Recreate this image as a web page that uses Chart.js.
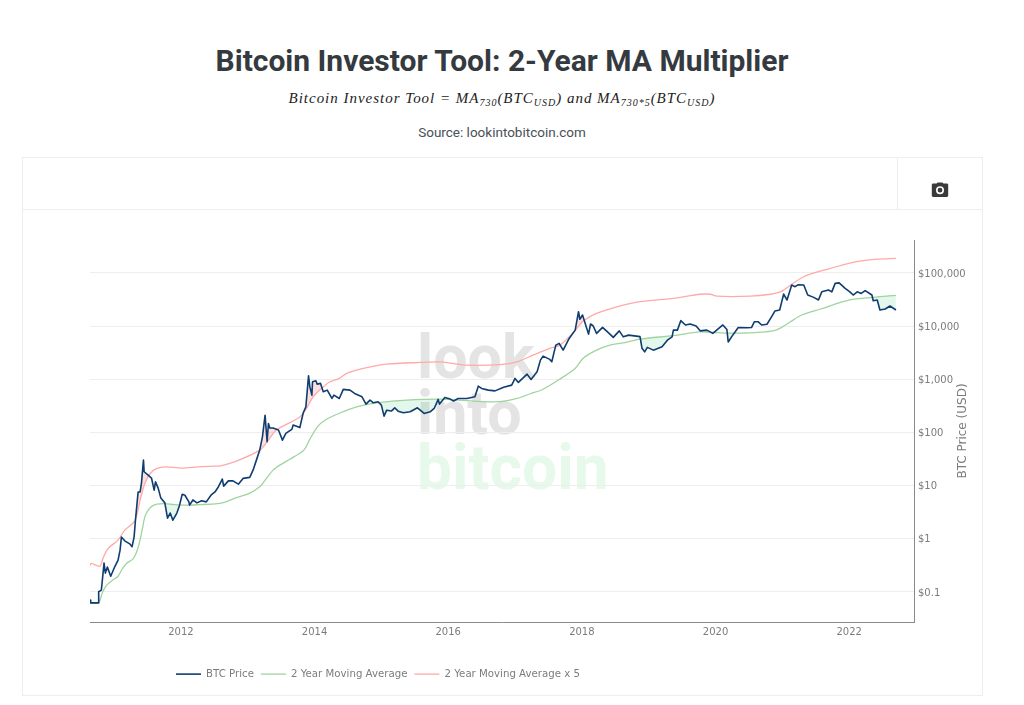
<!DOCTYPE html>
<html><head><meta charset="utf-8">
<style>
html,body{margin:0;padding:0;background:#fff;width:1024px;height:705px;overflow:hidden}
.t{position:absolute;left:0;width:1004px;text-align:center;white-space:nowrap}
#title{top:42px;font:700 30px Roboto,sans-serif;color:#343a40;line-height:38px}
#math{top:88px;font:italic 15px "Liberation Serif",serif;color:#222;line-height:20px;letter-spacing:.98px}
#math sub{font-size:10px;line-height:0;vertical-align:-3px}
#src{top:123px;font:400 13.5px Roboto,sans-serif;color:#495057;line-height:18px}
#box{position:absolute;left:22px;top:157px;width:961px;height:539px;border:1px solid #eee;box-sizing:border-box}
#hl{position:absolute;left:22px;top:209px;width:960px;height:1px;background:#eee}
#vl{position:absolute;left:897px;top:157px;width:1px;height:52px;background:#eee}
#cam{position:absolute;left:931px;top:182px}
#wrap{position:absolute;left:22px;top:210px;width:960px;height:485px}
</style></head><body>
<div id="title" class="t">Bitcoin Investor Tool: 2-Year MA Multiplier</div>
<div id="math" class="t">Bitcoin Investor Tool = MA<sub>730</sub>(BTC<sub>USD</sub>) and MA<sub>730*5</sub>(BTC<sub>USD</sub>)</div>
<div id="src" class="t">Source: lookintobitcoin.com</div>
<div id="box"></div><div id="hl"></div><div id="vl"></div>
<svg id="cam" width="18" height="16" viewBox="0 0 18 16"><path fill="#3a3a3a" fill-rule="evenodd" d="M5.6 1.6 6.6 .5h4.8l1 1.1h3.4c.8 0 1.4.6 1.4 1.4v10.6c0 .8-.6 1.4-1.4 1.4H2.2c-.8 0-1.4-.6-1.4-1.4V3c0-.8.6-1.4 1.4-1.4zM9 4.2a4 4 0 1 0 0 8 4 4 0 0 0 0-8zm0 1.6a2.4 2.4 0 1 1 0 4.8 2.4 2.4 0 0 1 0-4.8z"/></svg>
<div id="wrap"><canvas id="c" width="960" height="485" style="display:block"></canvas></div>
<script src="https://cdn.jsdelivr.net/npm/chart.js@4"></script>
<script>
const priceYears=[2010.64,2010.65,2010.76,2010.77,2010.81,2010.83,2010.85,2010.87,2010.90,2010.95,2011.01,2011.06,2011.09,2011.11,2011.16,2011.24,2011.27,2011.30,2011.32,2011.36,2011.39,2011.41,2011.44,2011.45,2011.51,2011.56,2011.60,2011.62,2011.66,2011.70,2011.76,2011.80,2011.84,2011.88,2011.94,2011.98,2012.02,2012.06,2012.12,2012.13,2012.18,2012.24,2012.31,2012.38,2012.45,2012.51,2012.56,2012.62,2012.64,2012.71,2012.78,2012.86,2012.93,2013.03,2013.08,2013.13,2013.18,2013.22,2013.26,2013.29,2013.31,2013.33,2013.38,2013.46,2013.52,2013.57,2013.66,2013.68,2013.78,2013.83,2013.87,2013.91,2013.93,2013.96,2013.97,2014.02,2014.04,2014.09,2014.13,2014.19,2014.26,2014.29,2014.37,2014.43,2014.53,2014.60,2014.71,2014.77,2014.83,2014.88,2014.95,2015.00,2015.04,2015.08,2015.15,2015.20,2015.25,2015.33,2015.43,2015.54,2015.64,2015.73,2015.79,2015.85,2015.87,2015.95,2016.03,2016.08,2016.15,2016.28,2016.40,2016.45,2016.50,2016.60,2016.70,2016.83,2016.95,2017.00,2017.05,2017.18,2017.24,2017.33,2017.38,2017.42,2017.52,2017.55,2017.61,2017.66,2017.72,2017.81,2017.90,2017.95,2017.97,2018.01,2018.05,2018.10,2018.13,2018.17,2018.22,2018.31,2018.42,2018.47,2018.56,2018.62,2018.70,2018.87,2018.90,2018.94,2018.98,2019.07,2019.20,2019.28,2019.35,2019.37,2019.43,2019.48,2019.55,2019.62,2019.71,2019.77,2019.87,2019.96,2020.11,2020.17,2020.19,2020.24,2020.34,2020.47,2020.54,2020.58,2020.64,2020.69,2020.77,2020.84,2020.89,2020.96,2021.02,2021.07,2021.14,2021.19,2021.24,2021.32,2021.38,2021.47,2021.54,2021.59,2021.69,2021.74,2021.79,2021.85,2021.94,2022.01,2022.06,2022.12,2022.18,2022.24,2022.34,2022.36,2022.42,2022.46,2022.54,2022.61,2022.70];
const priceValues=[0.0688,0.061,0.061,0.099,0.106,0.19,0.342,0.222,0.288,0.194,0.292,0.39,0.6,1.06,0.9,0.78,0.7,1.07,2.2,7.5,7.5,11,29.8,18,15.5,13.7,8.1,11.6,8.85,5.74,4.67,2.4,3,2.2,3,4.23,6.8,6.5,4.87,4.23,5.3,4.67,5.1,4.87,6.5,7.5,9.3,13.1,9.65,12.1,12.1,10.5,13.5,14.1,19.3,29.8,46,81.6,209,66,146,120,120,110,70.8,95,113,136,122,230,300,1150,713,499,890,930,804,830,577,620,432,499,432,640,620,537,465,338,402,358,375,324,201,260,250,288,249,232,242,288,226,242,280,415,338,452,420,388,432,432,465,736,667,620,600,700,770,1030,865,1240,985,1370,2280,2710,2350,2120,4360,4700,3510,5830,8360,18600,13400,16100,11200,7030,10900,10000,7250,9400,7030,6100,8100,6250,6730,6300,3800,3260,3960,3510,4050,5420,6250,8360,8360,12600,10450,10900,10000,8100,8360,7250,10450,8600,5000,6250,9400,9300,9400,12000,12000,10450,10800,15000,19200,20000,40000,30900,59000,55000,60000,59000,38300,34600,30900,44000,47600,44000,63500,65000,51300,44000,38300,44000,41000,46300,38300,29900,30900,20000,20900,23800,20000];
const maYears=[2010.64,2010.76,2010.79,2010.83,2010.89,2010.98,2011.06,2011.13,2011.19,2011.28,2011.33,2011.37,2011.42,2011.46,2011.51,2011.57,2011.64,2011.76,2011.91,2012.06,2012.28,2012.55,2012.66,2012.81,2013.03,2013.18,2013.26,2013.38,2013.48,2013.63,2013.84,2013.93,2014.04,2014.16,2014.38,2014.63,2014.98,2015.38,2015.88,2016.37,2016.78,2017.03,2017.23,2017.42,2017.67,2017.90,2018.02,2018.22,2018.42,2018.62,2018.87,2019.37,2019.77,2020.07,2020.37,2020.67,2020.86,2020.97,2021.12,2021.29,2021.57,2022.01,2022.36,2022.70];
const maValues=[0.061,0.061,0.0688,0.098,0.132,0.164,0.194,0.276,0.342,0.407,0.528,0.747,1.43,2.52,3.4,4.05,4.4,4.5,4.32,4.23,4.32,4.5,4.83,5.74,7.14,9.36,12.5,19.3,24,31,46,74,125,170,230,300,363,402,420,385,376,432,530,645,1000,1590,2480,3510,4360,4830,5660,6600,7750,7450,7340,7660,8100,9110,12000,16100,20900,30900,34600,37800];
const ma5Years=[2010.64,2010.66,2010.79,2010.84,2010.91,2011.06,2011.16,2011.31,2011.39,2011.46,2011.54,2011.64,2011.76,2012.01,2012.26,2012.51,2012.58,2012.83,2013.18,2013.31,2013.43,2013.78,2013.88,2013.98,2014.13,2014.23,2014.37,2014.48,2014.73,2015.08,2015.58,2015.88,2016.03,2016.28,2016.78,2017.03,2017.27,2017.52,2017.67,2017.87,2018.02,2018.22,2018.62,2018.87,2019.37,2019.77,2019.92,2020.02,2020.52,2020.82,2020.97,2021.02,2021.32,2021.67,2022.06,2022.41,2022.70];
const ma5Values=[0.31,0.338,0.30,0.44,0.645,0.93,1.43,2.14,5.27,10.85,16.7,20.8,22.3,21.1,22.3,23,23,28.5,46,71,110,194,280,465,713,890,1030,1280,1590,1915,2060,2110,2000,1830,1880,2120,2830,3780,4360,7470,12400,17300,24800,28800,33200,39600,39600,36400,36400,39600,44000,47600,84500,117000,158000,181000,188000];
const yTicks=[0.1,1,10,100,1000,10000,100000];
const xTickYears=[2012,2014,2016,2018,2020,2022];
const seriesNames=['BTC Price','2 Year Moving Average','2 Year Moving Average x 5'];
const watermarkWords=['look','into','bitcoin'];
const axisTitle='BTC Price (USD)';

const pts=(xs,ys)=>xs.map((x,i)=>({x,y:ys[i]}));
const tickFont={family:'"DejaVu Sans",sans-serif',size:10};
const legendFont={family:'"DejaVu Sans",sans-serif',size:10.2};
const tickColor='#7c7c7c';
const none='rgba(0,0,0,0)';

const decor={
  id:'decor',
  afterLayout(chart){
    const l=chart.legend;
    l.left=154-l.options.labels.padding;
    l.top=459-l.options.labels.padding;
  },
  beforeDraw(chart){
    const c=chart.ctx;c.save();
    c.font='700 61px Roboto,sans-serif';c.textAlign='left';c.textBaseline='alphabetic';
    c.fillStyle='#e4e4e4';c.fillText(watermarkWords[0],395,168);c.fillText(watermarkWords[1],395,224);
    c.font='700 62.3px Roboto,sans-serif';
    c.fillStyle='#e7f9eb';c.fillText(watermarkWords[2],395,279);
    c.restore();
  },
  afterDraw(chart){
    const c=chart.ctx;c.save();
    c.translate(941,221);c.rotate(-Math.PI/2);
    c.font='12px "DejaVu Sans",sans-serif';c.fillStyle=tickColor;c.textAlign='center';c.textBaseline='middle';
    c.fillText(axisTitle,0,0);c.restore();
  }
};

new Chart(document.getElementById('c'),{
  type:'line',
  data:{datasets:[
    {label:seriesNames[0],data:pts(priceYears,priceValues),borderColor:'#0f3d70',backgroundColor:'#0f3d70',borderWidth:1.6,borderJoinStyle:'round',pointRadius:0,tension:0,fill:false},
    {label:seriesNames[1],data:pts(maYears,maValues),borderColor:'#9fd49f',backgroundColor:'#9fd49f',borderWidth:1.3,pointRadius:0,tension:0.3,fill:{target:0,above:'rgba(40,190,110,0.13)',below:none}},
    {label:seriesNames[2],data:pts(ma5Years,ma5Values),borderColor:'#ffa9a9',backgroundColor:'#ffa9a9',borderWidth:1.3,pointRadius:0,tension:0.3,fill:{target:0,below:'rgba(240,80,80,0.17)',above:none}}
  ]},
  options:{
    responsive:false,animation:false,devicePixelRatio:1,
    layout:{padding:{left:68,top:30,right:0,bottom:0}},
    plugins:{
      tooltip:{enabled:false},
      legend:{display:true,position:'bottom',align:'start',
        labels:{usePointStyle:true,pointStyle:'line',pointStyleWidth:25,padding:7,font:legendFont,color:tickColor}}
    },
    scales:{
      x:{type:'linear',min:2010.64,max:2022.97,
        afterBuildTicks(a){a.ticks=xTickYears.map(value=>({value}));},
        afterFit(s){s.height=73-s.chart.legend.height;},
        grid:{display:false,drawTicks:false},
        border:{display:true,color:'#8a8a8a',width:1},
        ticks:{font:tickFont,color:tickColor,padding:4,maxRotation:0,autoSkip:false,callback:v=>String(v)}},
      y:{type:'logarithmic',position:'right',min:0.02665,max:416500,
        afterBuildTicks(a){a.ticks=yTicks.map(value=>({value}));},
        afterFit(s){s.width=68;},
        grid:{color:'#eeeeee',lineWidth:1,drawTicks:false},
        border:{display:true,color:'#8a8a8a',width:1},
        title:{display:false,text:axisTitle},
        ticks:{font:tickFont,color:tickColor,padding:4,labelOffset:1.5,autoSkip:false,callback:v=>'$'+(v<1?String(v):Number(v).toLocaleString('en-US'))}}
    }
  },
  plugins:[decor]
});
</script>
</body></html>
